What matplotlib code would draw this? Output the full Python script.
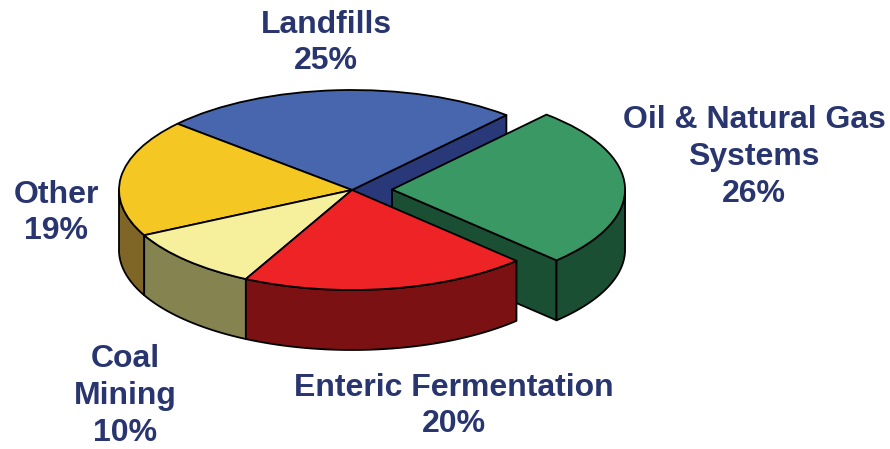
import numpy as np
import matplotlib
matplotlib.use('Agg')
import matplotlib.pyplot as plt
from matplotlib.patches import Polygon

plt.rcParams['font.family'] = ['Liberation Sans', 'DejaVu Sans']

names = ['Oil & Natural Gas\nSystems', 'Enteric Fermentation', 'Coal\nMining', 'Other', 'Landfills']
values = [26, 20, 10, 19, 25]
explode = [0.172, 0, 0, 0, 0]
top_colors = ['#3a9864', '#ee2326', '#f6f09c', '#f4c723', '#4766ae']
side_colors = ['#1a4f34', '#7b1113', '#85834f', '#7f6526', '#283878']

text_color = '#28356f'
start_angle = 48.5
depth = 0.60            # wall height, in pie units
edge = dict(edgecolor='black', linewidth=1.3, joinstyle='round')

fig = plt.figure(figsize=(8.9, 4.49), dpi=100)
ax = fig.add_axes([0, 0, 1, 1])

wedges, _ = ax.pie(values, explode=explode, colors=top_colors, startangle=start_angle,
                   counterclock=False, radius=1, wedgeprops=edge)

# squash the circle into an ellipse, 233 x 100 px per unit
ax.set_aspect('auto')
ax.set_xlim(-352 / 233, 538 / 233)
ax.set_ylim(-259 / 100, 190 / 100)
ax.axis('off')


def outer_wall(wedge, color, z):
    # curved wall, front half of the slice only
    t1 = max(wedge.theta1, -180 if wedge.theta1 < 0 else 180)
    t2 = min(wedge.theta2, 0 if wedge.theta1 < 0 else 360)
    if t2 <= t1:
        return
    a = np.radians(np.linspace(t1, t2, 80))
    cx, cy = wedge.center
    x = cx + np.cos(a)
    y = cy + np.sin(a)
    pts = np.r_[np.c_[x, y], np.c_[x[::-1], y[::-1] - depth]]
    ax.add_patch(Polygon(pts, closed=True, facecolor=color, zorder=z, **edge))


def cut_wall(wedge, angle, color, z):
    # flat wall from the centre out to the rim
    a = np.radians(angle)
    cx, cy = wedge.center
    x = cx + np.cos(a)
    y = cy + np.sin(a)
    pts = [(cx, cy), (x, y), (x, y - depth), (cx, cy - depth)]
    ax.add_patch(Polygon(pts, closed=True, facecolor=color, zorder=z, **edge))


oil, enteric, coal, other, landfills = wedges

cut_wall(landfills, start_angle, side_colors[4], 1)
outer_wall(other, side_colors[3], 2)
outer_wall(coal, side_colors[2], 3)

cut_wall(oil, oil.theta1, side_colors[0], 4)
outer_wall(oil, side_colors[0], 5)
oil.set_zorder(6)

outer_wall(enteric, side_colors[1], 7)
landfills.set_zorder(8)
other.set_zorder(9)
coal.set_zorder(10)
enteric.set_zorder(11)

label_opts = dict(color=text_color, fontsize=23, fontweight='bold', ha='center',
                  va='center', linespacing=1.3)


def label(px, py, s):
    fig.text(px / 890, 1 - py / 449, s, **label_opts)


label(326, 43, 'Landfills\n25%')
label(754, 157, 'Oil & Natural Gas\nSystems\n26%')
label(56, 213, 'Other\n19%')
label(125, 396, 'Coal\nMining\n10%')
label(454, 406, 'Enteric Fermentation\n20%')

fig.savefig('out.png', dpi=100)
